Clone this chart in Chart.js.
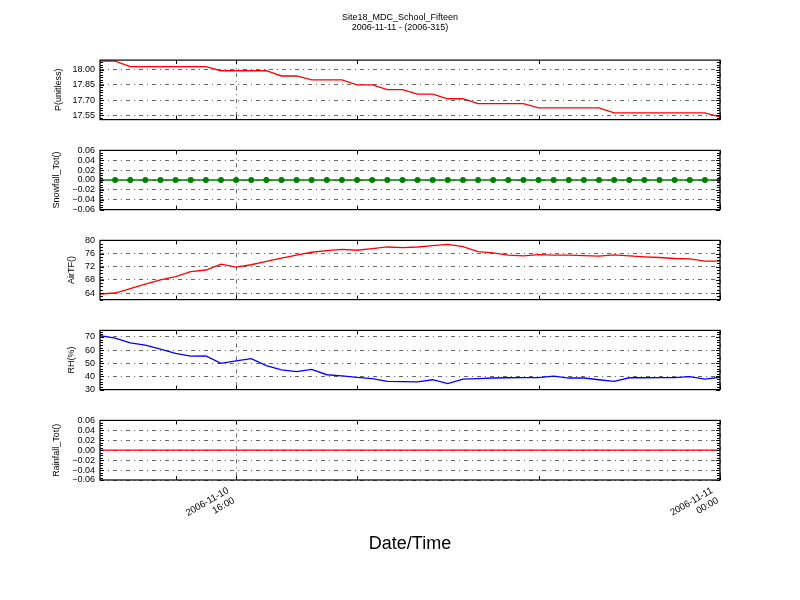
<!DOCTYPE html>
<html><head><meta charset="utf-8">
<script src="https://cdn.jsdelivr.net/npm/chart.js@4.4.1/dist/chart.umd.min.js"></script>
<style>
html,body{margin:0;padding:0;background:#fff;}
#fig{position:relative;width:800px;height:600px;background:#fff;overflow:hidden;}
#fig canvas{position:absolute;left:0;}
</style></head><body>
<div id="fig">
<canvas id="c1" width="800" height="130" style="top:0px"></canvas>
<canvas id="c2" width="800" height="80" style="top:140px"></canvas>
<canvas id="c3" width="800" height="80" style="top:230px"></canvas>
<canvas id="c4" width="800" height="80" style="top:320px"></canvas>
<canvas id="c5" width="800" height="190" style="top:410px"></canvas>
</div>
<script>
const chartTitle = ['Site18_MDC_School_Fifteen', '2006-11-11 - (2006-315)'];
const xAxisTitle = 'Date/Time';

const times = [
 '2006-11-10 13:45','2006-11-10 14:00','2006-11-10 14:15','2006-11-10 14:30','2006-11-10 14:45',
 '2006-11-10 15:00','2006-11-10 15:15','2006-11-10 15:30','2006-11-10 15:45','2006-11-10 16:00',
 '2006-11-10 16:15','2006-11-10 16:30','2006-11-10 16:45','2006-11-10 17:00','2006-11-10 17:15',
 '2006-11-10 17:30','2006-11-10 17:45','2006-11-10 18:00','2006-11-10 18:15','2006-11-10 18:30',
 '2006-11-10 18:45','2006-11-10 19:00','2006-11-10 19:15','2006-11-10 19:30','2006-11-10 19:45',
 '2006-11-10 20:00','2006-11-10 20:15','2006-11-10 20:30','2006-11-10 20:45','2006-11-10 21:00',
 '2006-11-10 21:15','2006-11-10 21:30','2006-11-10 21:45','2006-11-10 22:00','2006-11-10 22:15',
 '2006-11-10 22:30','2006-11-10 22:45','2006-11-10 23:00','2006-11-10 23:15','2006-11-10 23:30',
 '2006-11-10 23:45','2006-11-11 00:00'
];

const pressure = [
 18.085, 18.085, 18.030, 18.030, 18.030, 18.030, 18.030, 18.030, 17.990, 17.990,
 17.990, 17.990, 17.938, 17.938, 17.899, 17.899, 17.899, 17.850, 17.850, 17.804,
 17.804, 17.759, 17.759, 17.713, 17.713, 17.664, 17.664, 17.664, 17.664, 17.622,
 17.622, 17.622, 17.622, 17.622, 17.573, 17.573, 17.573, 17.573, 17.573, 17.573,
 17.573, 17.533
];
const snowfall = [
 0,0,0,0,0,0,0,0,0,0, 0,0,0,0,0,0,0,0,0,0,
 0,0,0,0,0,0,0,0,0,0, 0,0,0,0,0,0,0,0,0,0, 0,0
];
const airTemp = [
 63.7, 64.0, 65.3, 66.7, 68.0, 69.0, 70.5, 71.0, 72.8, 71.9,
 72.6, 73.6, 74.6, 75.5, 76.4, 76.9, 77.3, 77.0, 77.5, 78.0,
 77.8, 78.0, 78.4, 78.8, 78.1, 76.6, 76.2, 75.5, 75.3, 75.7,
 75.5, 75.5, 75.4, 75.2, 75.6, 75.3, 75.0, 74.8, 74.5, 74.4,
 73.7, 73.7
];
const relHum = [
 71.0, 69.2, 65.5, 63.8, 60.8, 57.6, 55.5, 55.6, 50.0, 51.8,
 53.6, 48.3, 45.0, 43.7, 45.4, 41.3, 40.5, 39.3, 38.3, 36.3,
 36.0, 35.9, 37.5, 34.5, 38.0, 38.3, 38.8, 39.0, 39.1, 39.1,
 40.2, 38.8, 38.8, 37.5, 36.3, 39.0, 39.0, 39.1, 39.1, 39.9,
 38.0, 39.4
];
const rainfall = [
 0,0,0,0,0,0,0,0,0,0, 0,0,0,0,0,0,0,0,0,0,
 0,0,0,0,0,0,0,0,0,0, 0,0,0,0,0,0,0,0,0,0, 0,0
];

const pTicks = [17.55, 17.70, 17.85, 18.00];
const snowTicks = [-0.06, -0.04, -0.02, 0.00, 0.02, 0.04, 0.06];
const airTicks = [64, 68, 72, 76, 80];
const rhTicks = [30, 40, 50, 60, 70];
const rainTicks = [-0.06, -0.04, -0.02, 0.00, 0.02, 0.04, 0.06];
const xMajorTimes = ['2006-11-10 16:00', '2006-11-11 00:00'];
const xMinorTimes = ['2006-11-10 15:00', '2006-11-10 18:00', '2006-11-10 21:00'];
const xRange = ['2006-11-10 13:45', '2006-11-11 00:00'];

function toHours(s) {
  const [d, t] = s.split(' ');
  const day = +d.slice(8, 10);
  const [h, m] = t.split(':').map(Number);
  return (day - 10) * 24 + h + m / 60;
}
const hours = times.map(toHours);
const xMajor = xMajorTimes.map(toHours);
const xMinor = xMinorTimes.map(toHours);
const xMajorLabels = xMajorTimes.map(s => s.split(' '));

Chart.defaults.font.family = "'Liberation Sans', Arial, sans-serif";
Chart.defaults.color = '#000';
Chart.defaults.animation = false;

const axesDeco = {
  id: 'axesDeco',
  afterDatasetsDraw(chart, args, o) {
    const {ctx, chartArea: a} = chart;
    const x = chart.scales.x, y = chart.scales.y;
    ctx.save();
    ctx.strokeStyle = '#000';
    ctx.lineWidth = 1;
    ctx.setLineDash([]);
    const seg = (x1, y1, x2, y2) => { ctx.beginPath(); ctx.moveTo(x1, y1); ctx.lineTo(x2, y2); ctx.stroke(); };
    const yt = (v, len) => {
      const p = Math.round(y.getPixelForValue(v)) + 0.5;
      seg(a.left, p, a.left + len, p);
      seg(a.right, p, a.right - len, p);
    };
    const step = o.minorStep;
    for (let k = Math.ceil(y.min / step - 1e-6); k * step <= y.max + 1e-9; k++) yt(k * step, 3);
    o.yMajor.forEach(v => yt(v, 4));
    const xt = (v, len) => {
      const p = Math.round(x.getPixelForValue(v)) + 0.5;
      seg(p, a.top, p, a.top + len);
      seg(p, a.bottom, p, a.bottom - len);
    };
    xMinor.forEach(v => xt(v, 4));
    xMajor.forEach(v => xt(v, 4));
    ctx.lineWidth = 1.2;
    ctx.strokeRect(a.left, a.top, a.right - a.left, a.bottom - a.top);
    ctx.restore();
  }
};

function makePanel(id, cfg) {
  const fmt = v => {
    const s = Math.abs(v).toFixed(cfg.decimals);
    return (v < -1e-9 ? '\u2212' : '') + s;
  };
  const ds = {
    data: hours.map((h, i) => ({x: h, y: cfg.values[i]})),
    borderColor: cfg.color,
    backgroundColor: cfg.color,
    borderWidth: 1.3,
    pointRadius: cfg.points ? 3 : 0,
    pointBackgroundColor: cfg.color,
    pointBorderColor: cfg.color,
    pointBorderWidth: 0,
    fill: false,
    tension: 0,
    clip: 0
  };
  return new Chart(document.getElementById(id), {
    type: 'line',
    data: {datasets: [ds]},
    options: {
      responsive: false,
      devicePixelRatio: 1,
      layout: {padding: {top: 10, bottom: cfg.bottom ? 0 : 10, left: 0, right: 0}},
      plugins: {
        legend: {display: false},
        tooltip: {enabled: false},
        title: cfg.top ? {
          display: true, text: chartTitle, color: '#000',
          font: {size: 9, weight: 'normal', lineHeight: 1.05},
          padding: {top: 3, bottom: 28.2}
        } : {display: false},
        axesDeco: {yMajor: cfg.ticks, minorStep: cfg.minorStep}
      },
      scales: {
        x: {
          type: 'linear',
          min: toHours(xRange[0]), max: toHours(xRange[1]),
          afterBuildTicks: s => { s.ticks = xMajor.map(v => ({value: v})); },
          afterFit: s => { s.height = cfg.bottom ? 120 : 0; },
          ticks: {
            display: !!cfg.bottom, autoSkip: false, minRotation: 30, maxRotation: 30,
            padding: 5, labelOffset: -8, font: {size: 9.5}, color: '#000',
            callback: (v, i) => xMajorLabels[i]
          },
          grid: {color: '#000', lineWidth: 0.6, drawTicks: false},
          border: {display: false, dash: [4, 4, 1, 4]},
          title: cfg.bottom ? {
            display: true, text: xAxisTitle, color: '#000',
            font: {size: 18}, padding: {top: 0, bottom: 45.2}
          } : {display: false}
        },
        y: {
          position: 'left',
          min: cfg.min, max: cfg.max,
          afterFit: s => { s.width = 100; },
          afterBuildTicks: s => { s.ticks = cfg.ticks.map(v => ({value: v})); },
          ticks: {autoSkip: false, padding: 5, font: {size: 9}, color: '#000', callback: v => fmt(v)},
          grid: {color: '#000', lineWidth: 0.6, drawTicks: false},
          border: {display: false, dash: [4, 4, 1, 4]},
          title: {display: true, text: cfg.label, color: '#000', font: {size: 9},
                  padding: {top: cfg.titlePad, bottom: 0}}
        },
        y2: {
          position: 'right',
          afterFit: s => { s.width = 80; },
          ticks: {display: false},
          grid: {display: false, drawTicks: false},
          border: {display: false}
        }
      }
    },
    plugins: [axesDeco]
  });
}

makePanel('c1', {values: pressure, color: '#ff0000', label: 'P(unitless)', ticks: pTicks,
  min: 17.507, max: 18.095, decimals: 2, minorStep: 0.025, titlePad: 52.9, top: true});
makePanel('c2', {values: snowfall, color: '#008000', label: 'Snowfall_Tot()', ticks: snowTicks,
  min: -0.06, max: 0.06, decimals: 2, minorStep: 0.005, titlePad: 51.3, points: true});
makePanel('c3', {values: airTemp, color: '#ff0000', label: 'AirTF()', ticks: airTicks,
  min: 62, max: 80, decimals: 0, minorStep: 1, titlePad: 66.3});
makePanel('c4', {values: relHum, color: '#0000ff', label: 'RH(%)', ticks: rhTicks,
  min: 30, max: 75, decimals: 0, minorStep: 2, titlePad: 66.3});
makePanel('c5', {values: rainfall, color: '#ff0000', label: 'Rainfall_Tot()', ticks: rainTicks,
  min: -0.06, max: 0.06, decimals: 2, minorStep: 0.005, titlePad: 51.3, bottom: true});
</script>
</body></html>
